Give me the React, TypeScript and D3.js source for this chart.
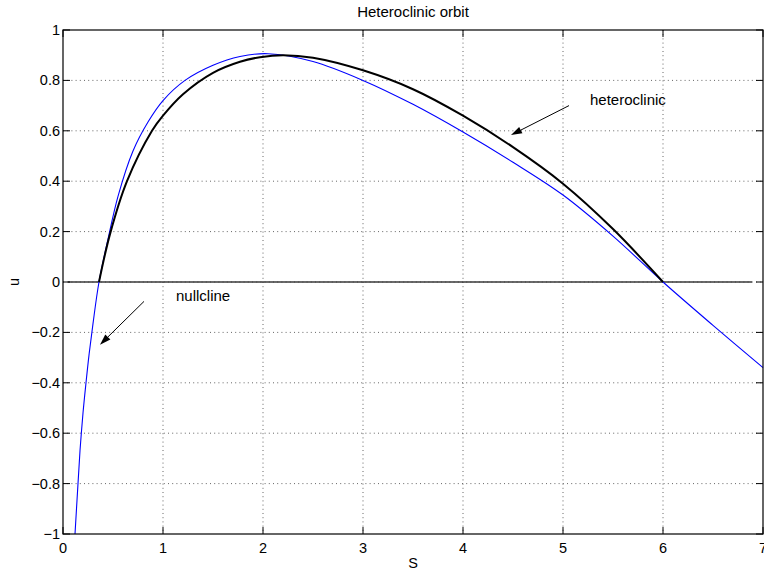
import { useEffect, useRef } from "react";
import * as d3 from "d3";

const W = 764;
const H = 571;
const MARGIN = { top: 30, right: 1, bottom: 37, left: 63 };

// nullcline (blue)
const NULL_S = [0.12, 0.135, 0.15, 0.17, 0.2, 0.23, 0.26, 0.3, 0.36, 0.45, 0.55, 0.7, 0.85, 1.0, 1.22, 1.5, 1.77, 2.05, 2.5, 3.0, 3.5, 4.0, 4.5, 5.0, 5.5, 6.0, 6.5, 7.0];
const NULL_U = [-1, -0.9, -0.8, -0.67, -0.52, -0.4, -0.29, -0.165, 0, 0.17, 0.34, 0.52, 0.635, 0.72, 0.8, 0.86, 0.895, 0.906, 0.875, 0.8, 0.705, 0.595, 0.475, 0.345, 0.182, 0, -0.172, -0.34];

// heteroclinic orbit (black)
const ORBIT_S = [0.36, 0.47, 0.64, 0.89, 1.0, 1.2, 1.5, 1.77, 1.97, 2.2, 2.5, 3.0, 3.5, 4.0, 4.5, 5.0, 5.5, 6.0];
const ORBIT_U = [0, 0.19, 0.4, 0.6, 0.66, 0.745, 0.83, 0.874, 0.892, 0.9, 0.89, 0.84, 0.765, 0.66, 0.535, 0.39, 0.21, 0];

// horizontal u = 0 line
const ZERO_S = [0.05, 6.89];

const X_TICKS = [0, 1, 2, 3, 4, 5, 6, 7];
const Y_TICKS = [-1, -0.8, -0.6, -0.4, -0.2, 0, 0.2, 0.4, 0.6, 0.8, 1];

// annotations: text position and arrow tail -> head, in data units
const NOTES = [
  { text: "heteroclinic", tx: 5.27, ty: 0.702, x1: 5.06, y1: 0.7, x2: 4.48, y2: 0.583 },
  { text: "nullcline", tx: 1.13, ty: -0.074, x1: 0.81, y1: -0.077, x2: 0.37, y2: -0.249 },
];

const FONT = "'Liberation Sans', Arial, Helvetica, sans-serif";

export default function App() {
  const ref = useRef<SVGSVGElement>(null);

  useEffect(() => {
    const svg = d3.select(ref.current);
    svg.selectAll("*").remove();

    const x = d3.scaleLinear().domain([0, 7]).range([MARGIN.left, W - MARGIN.right]);
    const y = d3.scaleLinear().domain([-1, 1]).range([H - MARGIN.bottom, MARGIN.top]);
    const [x0, x1] = x.range();
    const [y0, y1] = y.range();

    svg.append("rect").attr("width", W).attr("height", H).attr("fill", "white");

    // grid
    const grid = svg.append("g").attr("stroke", "#000").attr("stroke-width", 0.8)
      .attr("stroke-dasharray", "1,3.2").attr("opacity", 0.75);
    X_TICKS.slice(1, -1).forEach((v) => {
      grid.append("line").attr("x1", x(v)).attr("x2", x(v)).attr("y1", y1).attr("y2", y0);
    });
    Y_TICKS.slice(1, -1).forEach((v) => {
      grid.append("line").attr("x1", x0).attr("x2", x1).attr("y1", y(v)).attr("y2", y(v));
    });

    // u = 0 line
    svg.append("line")
      .attr("x1", x(ZERO_S[0])).attr("x2", x(ZERO_S[1]))
      .attr("y1", y(0)).attr("y2", y(0))
      .attr("stroke", "#3a3a3a").attr("stroke-width", 1.5);

    // curves
    const line = d3.line<[number, number]>()
      .x((d) => x(d[0])).y((d) => y(d[1]))
      .curve(d3.curveCatmullRom.alpha(0.5));

    svg.append("path")
      .datum(NULL_S.map((s, i) => [s, NULL_U[i]] as [number, number]))
      .attr("d", line).attr("fill", "none")
      .attr("stroke", "#0000ff").attr("stroke-width", 1.1);

    svg.append("path")
      .datum(ORBIT_S.map((s, i) => [s, ORBIT_U[i]] as [number, number]))
      .attr("d", line).attr("fill", "none")
      .attr("stroke", "#000").attr("stroke-width", 2);

    // axes box + inward ticks
    svg.append("rect")
      .attr("x", x0).attr("y", y1).attr("width", x1 - x0).attr("height", y0 - y1)
      .attr("fill", "none").attr("stroke", "#000").attr("stroke-width", 1.2);

    const TL = 7;
    const ticks = svg.append("g").attr("stroke", "#000").attr("stroke-width", 1);
    X_TICKS.forEach((v) => {
      ticks.append("line").attr("x1", x(v)).attr("x2", x(v)).attr("y1", y0).attr("y2", y0 - TL);
      ticks.append("line").attr("x1", x(v)).attr("x2", x(v)).attr("y1", y1).attr("y2", y1 + TL);
    });
    Y_TICKS.forEach((v) => {
      ticks.append("line").attr("x1", x0).attr("x2", x0 + TL).attr("y1", y(v)).attr("y2", y(v));
      ticks.append("line").attr("x1", x1).attr("x2", x1 - TL).attr("y1", y(v)).attr("y2", y(v));
    });

    const txt = svg.append("g").attr("font-family", FONT).attr("font-size", 14.5).attr("fill", "#000");

    X_TICKS.forEach((v) => {
      txt.append("text").attr("x", x(v)).attr("y", y0 + 18.5)
        .attr("text-anchor", "middle").text(d3.format("d")(v));
    });
    Y_TICKS.forEach((v) => {
      txt.append("text").attr("x", x0 - 3).attr("y", y(v)).attr("dy", "0.35em")
        .attr("text-anchor", "end").text(v === 0 ? "0" : d3.format("")(v).replace("-", "\u2212"));
    });

    // labels
    txt.append("text").attr("x", (x0 + x1) / 2).attr("y", H - 3)
      .attr("text-anchor", "middle").text("S");
    txt.append("text")
      .attr("transform", `translate(19,${y(0)}) rotate(-90)`)
      .attr("text-anchor", "middle").text("u");
    txt.append("text").attr("x", (x0 + x1) / 2).attr("y", 17)
      .attr("text-anchor", "middle").attr("font-size", 15).text("Heteroclinic orbit");

    // annotations
    NOTES.forEach((n) => {
      txt.append("text").attr("x", x(n.tx)).attr("y", y(n.ty))
        .attr("font-size", 15).text(n.text);
      const ax = x(n.x2), ay = y(n.y2);
      const ang = Math.atan2(ay - y(n.y1), ax - x(n.x1));
      const len = 11, half = 3.6;
      const bx = ax - len * Math.cos(ang), by = ay - len * Math.sin(ang);
      svg.append("line")
        .attr("x1", x(n.x1)).attr("y1", y(n.y1)).attr("x2", bx).attr("y2", by)
        .attr("stroke", "#000").attr("stroke-width", 1);
      svg.append("polygon")
        .attr("points", [
          [ax, ay],
          [bx + half * Math.sin(ang), by - half * Math.cos(ang)],
          [bx - half * Math.sin(ang), by + half * Math.cos(ang)],
        ].map((p) => p.join(",")).join(" "))
        .attr("fill", "#000");
    });
  }, []);

  return (
    <svg
      ref={ref}
      width={W}
      height={H}
      style={{ position: "absolute", left: 0, top: 0, display: "block" }}
    />
  );
}
